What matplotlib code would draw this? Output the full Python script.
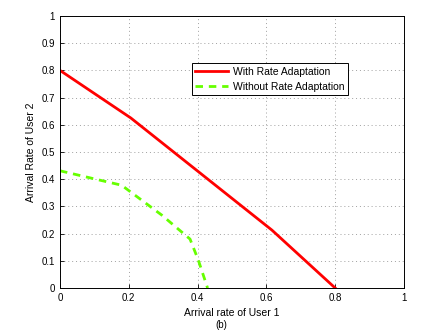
import matplotlib
matplotlib.use("Agg")
import matplotlib.pyplot as plt

plt.rcParams['font.family'] = ['Liberation Sans', 'DejaVu Sans']

# data
with_x = [0.0, 0.206, 0.616, 0.80]
with_y = [0.80, 0.625, 0.213, 0.0]
without_x = [0.0, 0.111, 0.179, 0.296, 0.378, 0.402, 0.429]
without_y = [0.431, 0.398, 0.378, 0.268, 0.18, 0.103, 0.0]
ticks = [0, 0.2, 0.4, 0.6, 0.8, 1]
yticks = [0, 0.1, 0.2, 0.3, 0.4, 0.5, 0.6, 0.7, 0.8, 0.9, 1]

fig = plt.figure(figsize=(4.43, 3.33), dpi=100)
ax = fig.add_axes([0.1354, 0.135, 0.7766, 0.817])

ax.plot(with_x, with_y, color='#ff0000', lw=2, label='With Rate Adaptation')
ax.plot(without_x, without_y, color='#66ff00', lw=2, ls=(0, (2.7, 2.1)),
        label='Without Rate Adaptation')

ax.set_xlim(0, 1)
ax.set_ylim(0, 1)
ax.set_xticks(ticks)
ax.set_xticklabels(['0', '0.2', '0.4', '0.6', '0.8', '1'])
ax.set_yticks(yticks)
ax.set_yticklabels(['0', '0.1', '0.2', '0.3', '0.4', '0.5', '0.6', '0.7', '0.8', '0.9', '1'])
ax.tick_params(labelsize=7, direction='in', length=3, width=0.6)
ax.grid(True, ls=(0, (1, 3)), color='#a0a0a0', lw=0.7)
for s in ax.spines.values():
    s.set_linewidth(0.7)

ax.set_xlabel('Arrival rate of User 1', fontsize=7.5, labelpad=3.5)
ax.set_ylabel('Arrival Rate of User 2', fontsize=7.5, labelpad=4)

leg = ax.legend(loc='upper left', bbox_to_anchor=(0.383, 0.826), fontsize=7.5,
                fancybox=False, edgecolor='black', framealpha=1,
                handlelength=3.1, handletextpad=0.5, borderpad=0.35,
                labelspacing=0.45, borderaxespad=0)
leg.get_frame().set_linewidth(0.7)

fig.text(0.5, 0.024, '(b)', ha='center', va='center', fontsize=7)

fig.savefig('out.png', dpi=100)
